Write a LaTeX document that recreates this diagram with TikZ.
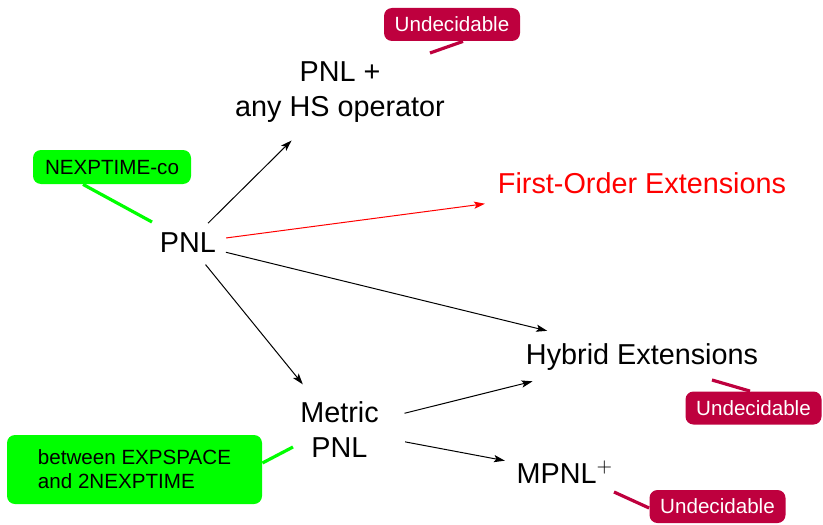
\documentclass[tikz,border=0pt]{standalone}
\usepackage{fontspec}
\setmainfont{Liberation Sans}
\usetikzlibrary{arrows.meta,calc}

\definecolor{undec}{RGB}{190,0,62}
\definecolor{okgreen}{RGB}{0,255,0}

\tikzset{
  label/.style={font=\fontsize{14.4}{17.5}\selectfont, inner sep=0pt, align=center},
  arr/.style={line width=0.5pt, -{Stealth[length=5.5pt,width=3.6pt,inset=1.2pt]}},
  badbox/.style={fill=undec, text=white, rounded corners=4pt, inner sep=0pt,
    minimum width=68pt, minimum height=16.5pt, text depth=0pt,
    font=\fontsize{10.3}{12}\selectfont},
  goodbox/.style={fill=okgreen, text=black, rounded corners=4pt, inner sep=0pt,
    text depth=0pt, font=\fontsize{10.3}{12}\selectfont},
  badtail/.style={draw=undec, line width=1.6pt},
  goodtail/.style={draw=okgreen, line width=1.6pt},
}

\begin{document}
\begin{tikzpicture}[x=0.5pt, y=-0.5pt]
  \useasboundingbox (0,0) rectangle (823,524);

  % logics
  \node[label, text depth=0pt] (pnl) at (188,243) {PNL};
  \node[label] (pnlhs) at (340,92.5) {PNL +\\any HS operator};
  \node[label, text depth=0pt, text=red] (fo) at (642,183) {First-Order Extensions};
  \node[label, text depth=0pt] (hyb) at (642,354) {Hybrid Extensions};
  \node[label] (mpnl) at (339.5,429.5) {Metric\\PNL};
  \node[label, text depth=0pt] (mpnlp) at (565,472) {MPNL$^{+}$};

  % extensions
  \draw[arr] ($(pnl)!14.1pt!(pnlhs)$) -- ($(pnlhs)!34.1pt!(pnl)$);
  \draw[arr, red] ($(pnl)!19.2pt!(fo)$) -- ($(fo)!79.2pt!(pnl)$);
  \draw[arr] ($(pnl)!19.5pt!(hyb)$) -- ($(hyb)!48.8pt!(pnl)$);
  \draw[arr] ($(pnl)!13.9pt!(mpnl)$) -- ($(mpnl)!29.1pt!(pnl)$);
  \draw[arr] ($(mpnl)!33.5pt!(hyb)$) -- ($(hyb)!56.4pt!(mpnl)$);
  \draw[arr] ($(mpnl)!33.4pt!(mpnlp)$) -- ($(mpnlp)!30.6pt!(mpnl)$);

  % complexity callouts
  \node[badbox] (u1) at (452,24.5) {Undecidable};
  \node[goodbox, minimum width=79pt, minimum height=17pt] (nx) at (112,167) {NEXPTIME-co};
  \node[goodbox, align=left, minimum width=127.5pt, minimum height=34.5pt] (ex) at (134.5,469.5)
    {between EXPSPACE\\and 2NEXPTIME};
  \node[badbox] (u2) at (753.5,408) {Undecidable};
  \node[badbox] (u3) at (717.5,506.5) {Undecidable};

  \coordinate (t1) at (430,53);
  \coordinate (t2) at (152,222);
  \coordinate (t3) at (293,447);
  \coordinate (t4) at (712,380);
  \coordinate (t5) at (614,492);

  \draw[badtail] (t1) -- ($(u1.south)+(11,0)$);
  \draw[goodtail] ($(nx.south)+(-29,0)$) -- (t2);
  \draw[goodtail] ($(ex.east)+(0,-6.5)$) -- (t3);
  \draw[badtail] (t4) -- ($(u2.north)+(-3.5,0)$);
  \draw[badtail] (t5) -- ($(u3.west)+(0,1.5)$);
\end{tikzpicture}
\end{document}
